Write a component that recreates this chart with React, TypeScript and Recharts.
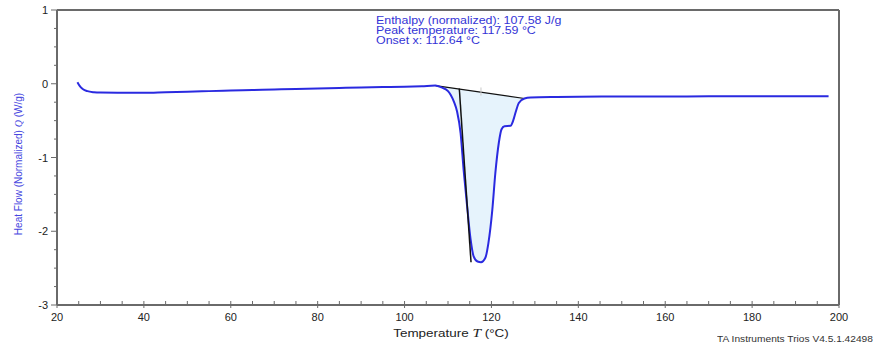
import React from 'react';
import { ComposedChart, Line, Area, XAxis, YAxis, ReferenceLine } from 'recharts';

// DSC scan: temperature (°C) vs normalized heat flow (W/g)
const temps = [
  24.7, 25.0, 25.5, 26.0, 27.0, 28.5, 30, 35, 40, 45, 50, 55, 60, 65, 70, 75, 80, 85, 90, 95, 100, 104,
  107.1, 108.5, 110, 110.6, 111.4, 112.1, 112.9, 113.6, 114.4, 115.2, 115.9, 116.8, 117.6, 118.6, 119.3,
  120.2, 120.9, 121.7, 122.3, 123.0, 124.4, 125.0, 125.6, 126.3, 127.6, 129.0, 135, 140, 150, 160, 170,
  180, 190, 197.6,
];
const heatFlow = [
  0.02, -0.01, -0.05, -0.075, -0.1, -0.115, -0.12, -0.122, -0.123, -0.115, -0.108, -0.1, -0.092, -0.085,
  -0.078, -0.07, -0.063, -0.057, -0.05, -0.045, -0.04, -0.033,
  -0.025, -0.05, -0.1, -0.15, -0.25, -0.38, -0.67, -1.17, -1.66, -2.11, -2.34, -2.41, -2.42, -2.36, -2.16,
  -1.71, -1.21, -0.8, -0.62, -0.575, -0.57, -0.5, -0.38, -0.26, -0.2, -0.185, -0.178, -0.175, -0.173,
  -0.172, -0.171, -0.17, -0.17, -0.17,
];

// integration baseline and onset tangent (end points)
const baseStart = { x: 107.1, y: -0.025 };
const baseEnd = { x: 127.6, y: -0.2 };
const tangentTop = { x: 112.6, y: -0.065 };
const tangentBottom = { x: 115.3, y: -2.42 };
const peakTemp = 117.59;

const xTicks = [20, 25, 30, 35, 40, 45, 50, 55, 60, 65, 70, 75, 80, 85, 90, 95, 100, 105, 110, 115, 120,
  125, 130, 135, 140, 145, 150, 155, 160, 165, 170, 175, 180, 185, 190, 195, 200];
const xLabels = [20, 40, 60, 80, 100, 120, 140, 160, 180, 200];
const yTicks = [-3, -2.75, -2.5, -2.25, -2, -1.75, -1.5, -1.25, -1, -0.75, -0.5, -0.25, 0, 0.25, 0.5, 0.75, 1];
const yLabels = [-3, -2, -1, 0, 1];

const annotation = [
  'Enthalpy (normalized): 107.58 J/g',
  'Peak temperature: 117.59 °C',
  'Onset x: 112.64 °C',
];

const baselineAt = (t: number) =>
  baseStart.y + ((t - baseStart.x) * (baseEnd.y - baseStart.y)) / (baseEnd.x - baseStart.x);

const data = temps.map((t, i) => ({
  t,
  hf: heatFlow[i],
  band: t >= baseStart.x && t <= baseEnd.x ? [heatFlow[i], baselineAt(t)] : null,
}));

const FONT = '"Liberation Sans", Arial, sans-serif';
const AXIS = '#6a6a6a';
const BLUE = '#2a2ae0';

const XTick = (props: any) => {
  const { x, y, payload } = props;
  const major = xLabels.includes(payload.value);
  return (
    <g>
      <line x1={x} x2={x} y1={y - 4} y2={major ? y + 3 : y} stroke={AXIS} strokeWidth={1} />
      {major && (
        <text x={x} y={y + 16} textAnchor="middle" fontSize={11} fontFamily={FONT} fill="#222">
          {payload.value}
        </text>
      )}
    </g>
  );
};

const YTick = (props: any) => {
  const { x, y, payload } = props;
  const major = yLabels.includes(payload.value);
  return (
    <g>
      <line x1={major ? x - 6 : x - 3} x2={x} y1={y} y2={y} stroke={AXIS} strokeWidth={1} />
      {major && (
        <text x={x - 9} y={y + 4} textAnchor="end" fontSize={11} fontFamily={FONT} fill="#222">
          {payload.value}
        </text>
      )}
    </g>
  );
};

export default function App() {
  return (
    <div style={{ position: 'absolute', left: 0, top: 0, width: 876, height: 351, background: '#fff' }}>
      <ComposedChart width={876} height={351} data={data} margin={{ top: 10, right: 37, bottom: 16, left: 12 }}>
        <XAxis
          dataKey="t"
          type="number"
          domain={[20, 200]}
          ticks={xTicks}
          interval={0}
          height={30}
          tickSize={0}
          tickMargin={0}
          tickLine={false}
          tick={<XTick />}
          axisLine={{ stroke: AXIS, strokeWidth: 2 }}
        />
        <YAxis
          type="number"
          domain={[-3, 1]}
          ticks={yTicks}
          interval={0}
          width={45}
          tickSize={0}
          tickMargin={0}
          tickLine={false}
          tick={<YTick />}
          axisLine={{ stroke: AXIS, strokeWidth: 2 }}
        />
        <ReferenceLine y={1} stroke={AXIS} strokeWidth={2} />
        <ReferenceLine x={200} stroke={AXIS} strokeWidth={2} />
        <Area
          dataKey="band"
          type="monotone"
          stroke="none"
          fill="#e6f3fc"
          fillOpacity={1}
          connectNulls={false}
          isAnimationActive={false}
        />
        <ReferenceLine segment={[baseStart, baseEnd]} stroke="#111" strokeWidth={1.2} />
        <ReferenceLine
          segment={[{ x: peakTemp, y: -0.05 }, { x: peakTemp, y: -0.16 }]}
          stroke="#c8c8c8"
          strokeWidth={1}
        />
        <Line
          dataKey="hf"
          type="monotone"
          stroke={BLUE}
          strokeWidth={2}
          dot={false}
          isAnimationActive={false}
        />
        <ReferenceLine segment={[tangentTop, tangentBottom]} stroke="#111" strokeWidth={1.5} />
      </ComposedChart>

      <div
        style={{
          position: 'absolute',
          left: 376,
          top: 16,
          fontFamily: FONT,
          fontSize: 10,
          lineHeight: '10px',
          color: '#3434d6',
          whiteSpace: 'nowrap',
          transform: 'scaleX(1.24)',
          transformOrigin: 'left top',
        }}
      >
        {annotation.map((s) => (
          <div key={s}>{s}</div>
        ))}
      </div>

      <div
        style={{
          position: 'absolute',
          left: 18,
          top: 164,
          transform: 'translate(-50%, -50%) rotate(-90deg)',
          whiteSpace: 'nowrap',
          fontFamily: FONT,
          fontSize: 10,
          color: '#4646e0',
        }}
      >
        Heat Flow (Normalized) <span style={{ fontStyle: 'italic', fontFamily: '"Liberation Serif", serif' }}>Q</span> (W/g)
      </div>

      <div
        style={{
          position: 'absolute',
          left: 451,
          top: 326,
          transform: 'translateX(-50%) scaleX(1.28)',
          whiteSpace: 'nowrap',
          fontFamily: FONT,
          fontSize: 10.5,
          color: '#222',
        }}
      >
        Temperature <span style={{ fontStyle: 'italic', fontFamily: '"Liberation Serif", serif', fontSize: 12 }}>T</span> (°C)
      </div>

      <div
        style={{
          position: 'absolute',
          right: 3,
          top: 334,
          whiteSpace: 'nowrap',
          fontFamily: FONT,
          fontSize: 9,
          color: '#333',
          transform: 'scaleX(1.13)',
          transformOrigin: 'right top',
        }}
      >
        TA Instruments Trios V4.5.1.42498
      </div>
    </div>
  );
}
